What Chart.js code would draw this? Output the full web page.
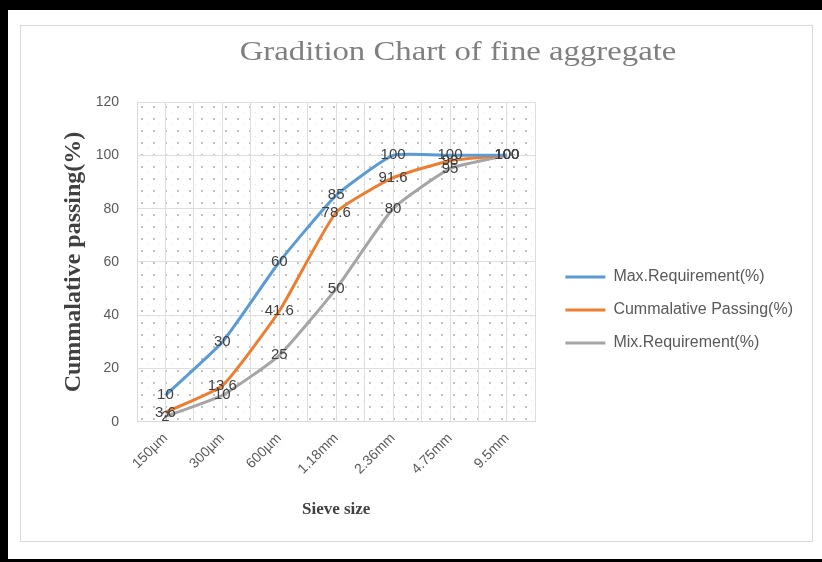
<!DOCTYPE html>
<html>
<head>
<meta charset="utf-8">
<script src="https://cdn.jsdelivr.net/npm/chart.js@4.4.0/dist/chart.umd.min.js"></script>
<style>
  body { margin: 0; background: #fff; }
  #frame { position: absolute; left: 0; top: 0; width: 822px; height: 562px; box-sizing: border-box;
           border-top: 10px solid #000; border-left: 8px solid #000; border-bottom: 3px solid #000; }
  #panel { position: absolute; left: 20px; top: 25px; width: 791px; height: 515px; border: 1px solid #d9d9d9; background: #fff; }
  #title { position: absolute; left: 458px; top: 35px; transform: translateX(-50%) scaleX(1.17); white-space: nowrap;
           font-family: "Liberation Serif", serif; font-size: 28px; color: #7f7f7f; }
  #wrap { position: absolute; left: 0; top: 0; width: 791px; height: 515px; }
</style>
</head>
<body>
<div id="frame"></div>
<div id="panel"><div id="wrap"><canvas id="gradChart"></canvas></div></div>
<div id="title">Gradition Chart of fine aggregate</div>
<script>
// categorias (peneiras) e séries
const sieveSizes = ['150µm', '300µm', '600µm', '1.18mm', '2.36mm', '4.75mm', '9.5mm'];
const maxRequirement = [10, 30, 60, 85, 100, 100, 100];
const cumPassing = [3.6, 13.6, 41.6, 78.6, 91.6, 98, 100];
const mixRequirement = [2, 10, 25, 50, 80, 95, 100];
const yTicks = [0, 20, 40, 60, 80, 100, 120];

function toPoints(values) {
    return values.map((v, i) => ({ x: i, y: v }));
}

// fundo pontilhado da área do gráfico
const dotFill = {
    id: 'dotFill',
    beforeDraw(chart) {
        const { ctx, chartArea: a } = chart;
        const tile = document.createElement('canvas');
        tile.width = 12; tile.height = 12;
        const t = tile.getContext('2d');
        t.fillStyle = '#c2c2c2'; t.fillRect(0, 0, 2, 2);
        t.fillStyle = '#e4e4e4'; t.fillRect(6, 6, 1, 1);
        ctx.save();
        ctx.translate(a.left + 4, a.top + 4);
        ctx.fillStyle = ctx.createPattern(tile, 'repeat');
        ctx.fillRect(-4, -4, a.width, a.height);
        ctx.restore();
    }
};

// rótulos de valor centrados nos pontos
const valueLabels = {
    id: 'valueLabels',
    afterDatasetsDraw(chart) {
        const ctx = chart.ctx;
        ctx.save();
        ctx.font = '15px "Liberation Sans"';
        ctx.fillStyle = '#404040';
        ctx.textAlign = 'center';
        ctx.textBaseline = 'middle';
        chart.data.datasets.forEach((ds, i) => {
            chart.getDatasetMeta(i).data.forEach((pt, j) => {
                ctx.fillText(String(ds.data[j].y), pt.x, pt.y);
            });
        });
        ctx.restore();
    }
};

// deixa a legenda com a largura natural e um pouco afastada da área do gráfico
const legendFit = {
    id: 'legendFit',
    afterInit(chart) {
        const lg = chart.legend;
        const update = lg.update;
        lg.update = function (maxWidth, maxHeight, margins) {
            return update.call(this, 400, maxHeight, margins);
        };
    },
    afterLayout(chart) {
        const lg = chart.legend;
        lg.left += 13;
        lg.right += 13;
        lg.top -= 3;
        lg.bottom -= 3;
    }
};

const tickFont = { family: '"Liberation Sans"', size: 14 };

new Chart(document.getElementById('gradChart'), {
    type: 'line',
    data: {
        datasets: [
            { label: 'Max.Requirement(%)', data: toPoints(maxRequirement), borderColor: '#5b9bd5', backgroundColor: '#5b9bd5' },
            { label: 'Cummalative Passing(%)', data: toPoints(cumPassing), borderColor: '#ed7d31', backgroundColor: '#ed7d31' },
            { label: 'Mix.Requirement(%)', data: toPoints(mixRequirement), borderColor: '#a5a5a5', backgroundColor: '#a5a5a5' }
        ]
    },
    options: {
        responsive: true,
        maintainAspectRatio: false,
        animation: false,
        datasets: { line: { borderWidth: 3, pointRadius: 0, tension: 0.15 } },
        layout: { padding: { top: 76, left: 40, right: 22, bottom: 17 } },
        scales: {
            x: {
                type: 'linear',
                min: -0.5,
                max: sieveSizes.length - 0.5,
                afterFit: (s) => { s.paddingLeft = 0; s.paddingRight = 0; },
                grid: { color: '#dedede', drawTicks: false },
                border: { color: '#d9d9d9' },
                ticks: {
                    stepSize: 0.5,
                    autoSkip: false,
                    minRotation: 45,
                    maxRotation: 45,
                    padding: 8,
                    color: '#595959',
                    font: tickFont,
                    callback: (v) => Number.isInteger(v) ? sieveSizes[v] : ''
                },
                title: {
                    display: true,
                    text: 'Sieve size',
                    color: '#404040',
                    font: { family: '"Liberation Serif"', size: 17, weight: 'bold' },
                    padding: { top: 14 }
                }
            },
            y: {
                min: 0,
                max: 120,
                afterBuildTicks: (s) => { s.ticks = yTicks.map(v => ({ value: v })); },
                afterFit: (s) => { s.width = 76; },
                grid: { color: '#dedede', drawTicks: false },
                border: { color: '#d9d9d9' },
                ticks: { padding: 18, color: '#595959', font: tickFont },
                title: {
                    display: true,
                    text: 'Cummalative passing(%)',
                    color: '#404040',
                    font: { family: '"Liberation Serif"', size: 24, weight: 'bold' },
                    padding: { top: -2, bottom: 6 }
                }
            }
        },
        plugins: {
            tooltip: { enabled: false },
            legend: {
                position: 'right',
                labels: {
                    usePointStyle: true,
                    pointStyle: 'line',
                    pointStyleWidth: 40,
                    padding: 17,
                    color: '#595959',
                    font: { family: '"Liberation Sans"', size: 16 }
                }
            }
        }
    },
    plugins: [dotFill, valueLabels, legendFit]
});
</script>
</body>
</html>
